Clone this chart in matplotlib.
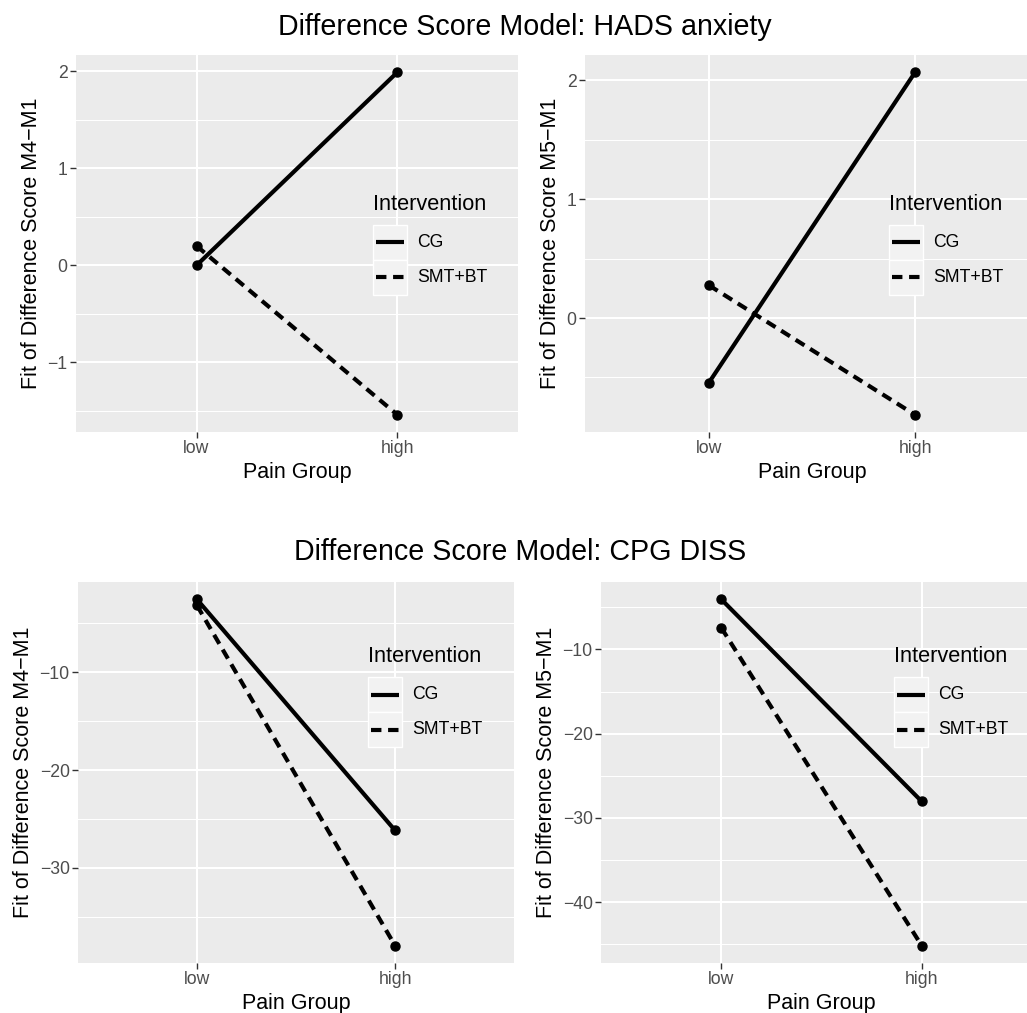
import matplotlib
matplotlib.use("Agg")
import matplotlib.pyplot as plt
from matplotlib.patches import Rectangle
from matplotlib.lines import Line2D

plt.rcParams['font.family'] = ['Liberation Sans', 'DejaVu Sans']

W, H = 1027, 1013
fig = plt.figure(figsize=(W / 100, H / 100), dpi=100)

# ---------------- data ----------------
groups = ["low", "high"]
series_names = ["CG", "SMT+BT"]
legend_title = "Intervention"
x_label = "Pain Group"

titles = ["Difference Score Model: HADS anxiety", "Difference Score Model: CPG DISS"]
y_labels = ["Fit of Difference Score M4\u2212M1", "Fit of Difference Score M5\u2212M1",
            "Fit of Difference Score M4\u2212M1", "Fit of Difference Score M5\u2212M1"]

hads_m4_cg = [0.0, 1.99]
hads_m4_smt = [0.20, -1.54]
hads_m5_cg = [-0.545, 2.07]
hads_m5_smt = [0.276, -0.815]
cpg_m4_cg = [-2.56, -26.17]
cpg_m4_smt = [-3.17, -37.94]
cpg_m5_cg = [-4.05, -28.04]
cpg_m5_smt = [-7.42, -45.16]

major_ticks = [[-1, 0, 1, 2], [0, 1, 2], [-30, -20, -10], [-40, -30, -20, -10]]
minor_ticks = [[-1.5, -0.5, 0.5, 1.5], [-0.5, 0.5, 1.5], [-35, -25, -15, -5],
               [-45, -35, -25, -15, -5]]

panel_data = [(hads_m4_cg, hads_m4_smt), (hads_m5_cg, hads_m5_smt),
              (cpg_m4_cg, cpg_m4_smt), (cpg_m5_cg, cpg_m5_smt)]

# ---------------- layout (pixels) ----------------
panel_px = [(76, 55, 518, 432), (585, 55, 1039, 432),
            (78, 582, 514, 963), (601, 582, 1042, 963)]
legend_px = [(373, 205), (889, 205), (368, 657), (894, 657)]
title_px = [(525, 27), (520, 552)]

PANEL_BG = "#EBEBEB"
TICK_COL = "#4D4D4D"
LW = 3.0
DASH = (0, (2.5, 1.6))
styles = ["-", DASH]


def fx(x):
    return x / W


def fy(y):
    return 1 - y / H


for i, (cg, smt) in enumerate(panel_data):
    x0, y0, x1, y1 = panel_px[i]
    ax = fig.add_axes([fx(x0), fy(y1), (x1 - x0) / W, (y1 - y0) / H])
    ax.set_facecolor(PANEL_BG)
    for s in ax.spines.values():
        s.set_visible(False)
    xs = list(range(len(groups)))
    for vals, ls in zip((cg, smt), styles):
        ax.plot(xs, vals, color="black", lw=LW, linestyle=ls, dash_capstyle="butt",
                solid_capstyle="butt", zorder=3)
        ax.plot(xs, vals, "o", color="black", ms=6.5, zorder=4)
    allv = list(cg) + list(smt)
    lo, hi = min(allv), max(allv)
    pad = 0.05 * (hi - lo)
    ax.set_ylim(lo - pad, hi + pad)
    ax.set_xlim(-0.6, 1.6)
    ax.set_xticks(xs)
    ax.set_xticklabels(groups)
    ax.set_yticks(major_ticks[i])
    ax.set_yticklabels([("\u2212" + str(abs(v))) if v < 0 else str(v) for v in major_ticks[i]])
    ax.set_yticks(minor_ticks[i], minor=True)
    ax.grid(True, which="major", color="white", lw=1.5, zorder=0)
    ax.grid(True, which="minor", axis="y", color="white", lw=0.75, zorder=0)
    ax.set_axisbelow(True)
    ax.tick_params(which="major", length=4, width=1.0, color="#333333",
                   labelcolor=TICK_COL, labelsize=12.7, pad=2)
    ax.tick_params(which="minor", length=0)
    ax.set_xlabel(x_label, fontsize=15.5, labelpad=3)
    ax.set_ylabel(y_labels[i], fontsize=15.5, labelpad=4)

    # legend drawn manually
    lx, ly = legend_px[i]
    fig.text(fx(lx), fy(ly), legend_title, fontsize=15.7, ha="left", va="center")
    for k, (name, ls) in enumerate(zip(series_names, styles)):
        top = ly + 20 + 35 * k
        fig.add_artist(Rectangle((fx(lx), fy(top + 35)), 34 / W, 35 / H,
                                 transform=fig.transFigure, facecolor="#F2F2F2",
                                 edgecolor="white", lw=1.0, zorder=5))
        cy = top + 17.5
        fig.add_artist(Line2D([fx(lx + 3), fx(lx + 31)], [fy(cy), fy(cy)],
                              transform=fig.transFigure, color="black", lw=LW,
                              linestyle=ls, dash_capstyle="butt", solid_capstyle="butt",
                              zorder=6))
        fig.text(fx(lx + 44), fy(cy), name, fontsize=12.7, color="black",
                 ha="left", va="center", zorder=6)

for t, (tx, ty) in zip(titles, title_px):
    fig.text(fx(tx), fy(ty), t, fontsize=20.6, ha="center", va="center")

fig.savefig("out.png", dpi=100)
